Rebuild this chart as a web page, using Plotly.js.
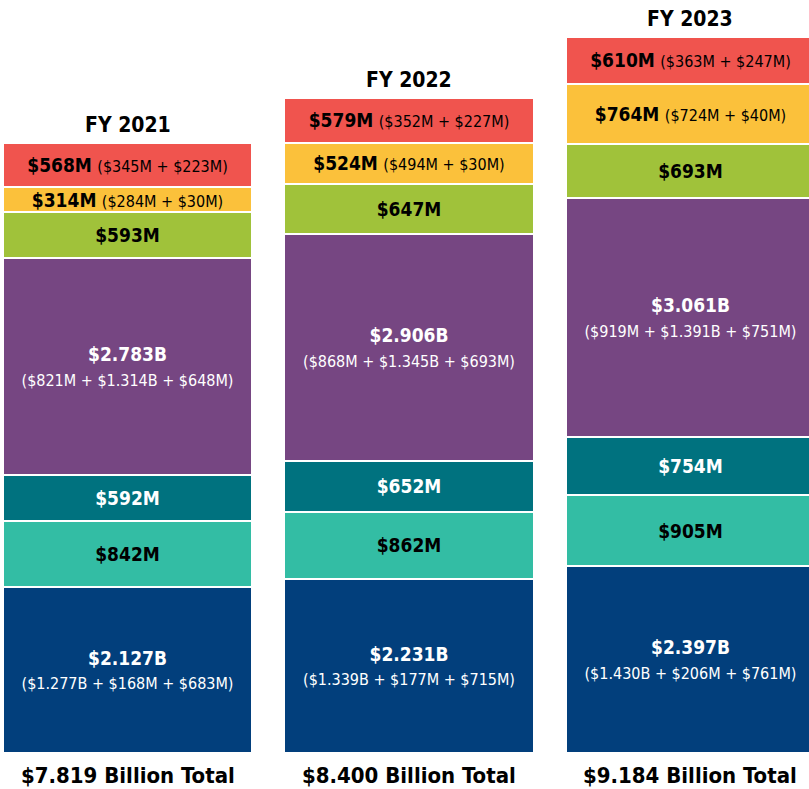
<!DOCTYPE html>
<html>
<head>
<meta charset="utf-8">
<script src="https://cdn.plot.ly/plotly-3.0.1.min.js"></script>
<style>html,body{margin:0;padding:0;background:#fff;}#chart{width:809px;height:789px;}</style>
</head>
<body>
<div id="chart"></div>
<script>
// ---- data (values in $M) ----
const years = ['FY 2021', 'FY 2022', 'FY 2023'];
const totalLabels = ['$7.819 Billion Total', '$8.400 Billion Total', '$9.184 Billion Total'];

const navy   = [2127, 2231, 2397];
const mint   = [842, 862, 905];
const teal   = [592, 652, 754];
const purple = [2783, 2906, 3061];
const green  = [593, 647, 693];
const orange = [314, 524, 764];
const red    = [568, 579, 610];

const navyParts   = [[1277, 168, 683], [1339, 177, 715], [1430, 206, 761]];
const purpleParts = [[821, 1314, 648], [868, 1345, 693], [919, 1391, 751]];
const orangeParts = [[284, 30], [494, 30], [724, 40]];
const redParts    = [[345, 223], [352, 227], [363, 247]];

// ---- helpers ----
const FONT = 'DejaVu Sans Condensed, DejaVu Sans, sans-serif';
function fmt(v) { return v >= 1000 ? '$' + (v / 1000).toFixed(3) + 'B' : '$' + v + 'M'; }
function partsStr(p) { return '<span style="font-size:16px">(' + p.map(fmt).join(' + ') + ')</span>'; }
const xs = years.map((_, i) => i);

function seg(name, vals, color, textColor, labels) {
  return {
    type: 'bar', name: name, x: xs, y: vals,
    width: 0.885,
    marker: { color: color, line: { color: '#ffffff', width: 2 } },
    text: labels,
    textposition: 'inside',
    insidetextanchor: 'middle',
    textangle: 0,
    constraintext: 'none',
    textfont: { family: FONT, size: 19, color: textColor },
    hoverinfo: 'skip'
  };
}

const traces = [
  seg('navy', navy, '#023F7C', '#ffffff', navy.map((v, i) => '<b>' + fmt(v) + '</b><br>' + partsStr(navyParts[i]))),
  seg('mint', mint, '#33BDA4', '#000000', mint.map(v => '<b>' + fmt(v) + '</b>')),
  seg('teal', teal, '#00727F', '#ffffff', teal.map(v => '<b>' + fmt(v) + '</b>')),
  seg('purple', purple, '#764682', '#ffffff', purple.map((v, i) => '<b>' + fmt(v) + '</b><br>' + partsStr(purpleParts[i]))),
  seg('green', green, '#A0C23A', '#000000', green.map(v => '<b>' + fmt(v) + '</b>')),
  seg('orange', orange, '#FBC13B', '#000000', orange.map((v, i) => '<b>' + fmt(v) + '</b> ' + partsStr(orangeParts[i]))),
  seg('red', red, '#F0544E', '#000000', red.map((v, i) => '<b>' + fmt(v) + '</b> ' + partsStr(redParts[i])))
];

const totals = xs.map(i => navy[i] + mint[i] + teal[i] + purple[i] + green[i] + orange[i] + red[i]);

const annotations = [];
xs.forEach(i => {
  annotations.push({
    x: i, y: totals[i], xref: 'x', yref: 'y', yanchor: 'middle', yshift: 18,
    text: '<b>' + years[i] + '</b>', showarrow: false,
    font: { family: FONT, size: 21, color: '#000000' }
  });
  annotations.push({
    x: i, y: 0.0165, xref: 'x', yref: 'paper', yanchor: 'middle',
    text: '<b>' + totalLabels[i] + '</b>', showarrow: false,
    font: { family: FONT, size: 22, color: '#000000' }
  });
});

const layout = {
  width: 809, height: 789,
  margin: { l: 0, r: 0, t: 0, b: 0, pad: 0 },
  paper_bgcolor: '#ffffff', plot_bgcolor: '#ffffff',
  barmode: 'stack',
  showlegend: false,
  xaxis: { visible: false, range: [-0.453, 2.421], fixedrange: true },
  yaxis: { visible: false, range: [-461, 9654], fixedrange: true },
  annotations: annotations
};

Plotly.newPlot('chart', traces, layout, { displayModeBar: false, staticPlot: true });
</script>
</body>
</html>
